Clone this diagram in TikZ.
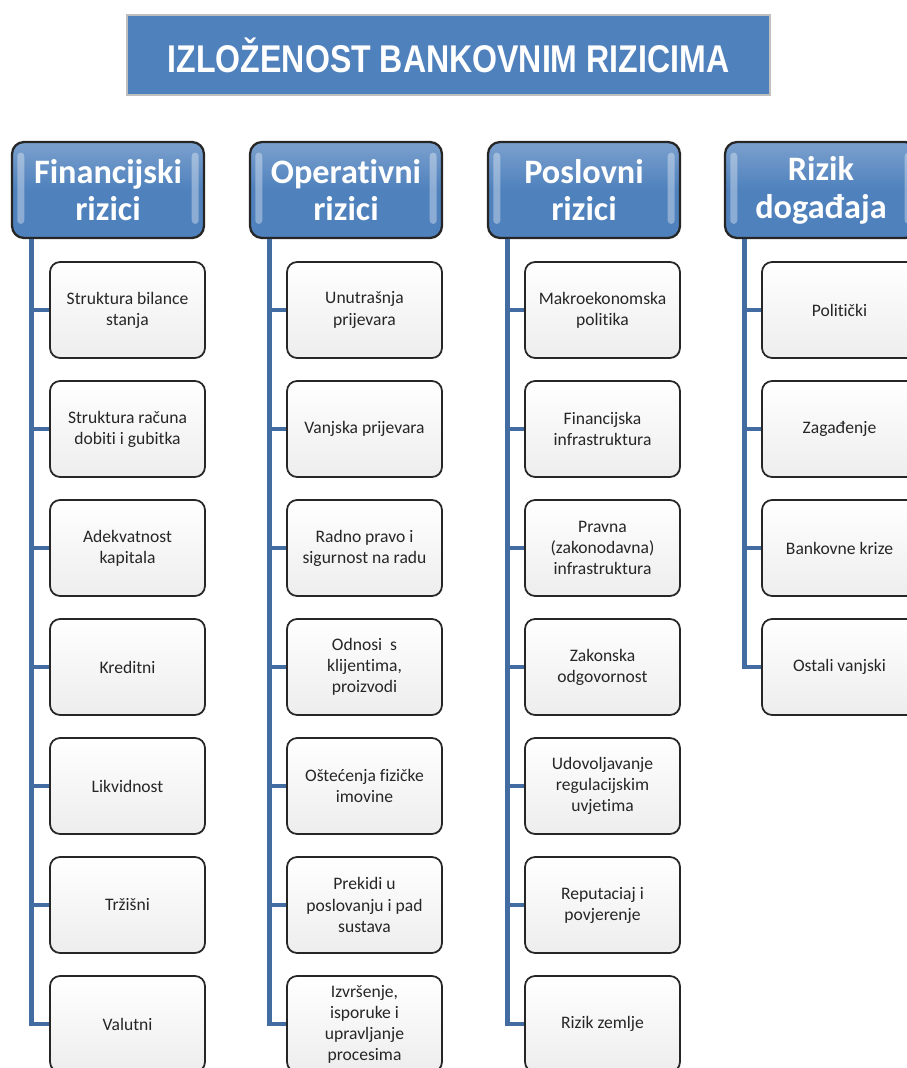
\documentclass[tikz,border=0pt]{standalone}
\usepackage{fontspec}
\setmainfont[Ligatures=NoCommon]{Carlito}
\newfontfamily\titlefont{Liberation Sans}
\usetikzlibrary{positioning}

\definecolor{riskblue}{RGB}{79,129,189}
\definecolor{trunkblue}{RGB}{66,108,162}

\tikzset{
  titlebox/.style={fill=riskblue, draw=black!25, line width=1.2pt, minimum width=12.86cm,
    minimum height=1.6cm, text=white, font=\titlefont\bfseries\fontsize{22}{26}\selectfont},
  headbox/.style={draw=black!85, line width=1.3pt, rounded corners=0.24cm,
    top color=riskblue!75!white, bottom color=riskblue, middle color=riskblue,
    minimum width=3.84cm, minimum height=1.92cm, text=white, align=center,
    font=\bfseries\fontsize{19.5}{21.5}\selectfont,
    path picture={
      \fill[white, opacity=0.35, rounded corners=2pt]
        ([xshift=3pt,yshift=-6pt]path picture bounding box.north west) rectangle
        ([xshift=7pt,yshift=8pt]path picture bounding box.south west);
      \fill[white, opacity=0.35, rounded corners=2pt]
        ([xshift=-3pt,yshift=-6pt]path picture bounding box.north east) rectangle
        ([xshift=-7pt,yshift=8pt]path picture bounding box.south east);
    }},
  itembox/.style={draw=black!85, line width=1pt, rounded corners=0.2cm,
    top color=white, bottom color=black!7, minimum width=3.1cm, minimum height=1.92cm,
    align=center, text=black!85, font=\fontsize{10}{12}\selectfont},
  trunk/.style={draw=trunkblue, line width=2.8pt}
}

\begin{document}
\begin{tikzpicture}[x=0.02cm, y=-0.02cm]
\useasboundingbox (0,0) rectangle (906,1068);

\node[titlebox] (title) at (448.5,55) {\scalebox{0.83}[1]{IZLOŽENOST BANKOVNIM RIZICIMA}};

% column headers
\node[headbox] (fin) at (108,190) {Financijski\\rizici};
\node[headbox] (op)  at (346,190) {Operativni\\rizici};
\node[headbox] (pos) at (584,190) {Poslovni\\rizici};
\node[headbox] (dog) at (821,190) {Rizik\\događaja};

% items below each header
\foreach \txt [count=\i] in {{Struktura bilance\\stanja}, {Struktura računa\\dobiti i gubitka},
    {Adekvatnost\\kapitala}, Kreditni, Likvidnost, Tržišni, Valutni} {
  \node[itembox] (fin-\i) at (127.5,191+119*\i) {\txt};
  \draw[trunk] ([xshift=0.42cm]fin.south west) |- (fin-\i.west);
}
\foreach \txt [count=\i] in {{Unutrašnja\\prijevara}, {Vanjska prijevara},
    {Radno pravo i\\sigurnost na radu}, {Odnosi~ s\\klijentima,\\proizvodi},
    {Oštećenja fizičke\\imovine}, {Prekidi u\\poslovanju i pad\\sustava},
    {Izvršenje,\\isporuke i\\upravljanje\\procesima}} {
  \node[itembox] (op-\i) at (364.5,191+119*\i) {\txt};
  \draw[trunk] ([xshift=0.42cm]op.south west) |- (op-\i.west);
}
\foreach \txt [count=\i] in {{Makroekonomska\\politika}, {Financijska\\infrastruktura},
    {Pravna\\(zakonodavna)\\infrastruktura}, {Zakonska\\odgovornost},
    {Udovoljavanje\\regulacijskim\\uvjetima}, {Reputaciaj i\\povjerenje}, {Rizik zemlje}} {
  \node[itembox] (pos-\i) at (602.5,191+119*\i) {\txt};
  \draw[trunk] ([xshift=0.42cm]pos.south west) |- (pos-\i.west);
}
\foreach \txt [count=\i] in {Politički, Zagađenje, Bankovne krize, Ostali vanjski} {
  \node[itembox] (dog-\i) at (839.5,191+119*\i) {\txt};
  \draw[trunk] ([xshift=0.42cm]dog.south west) |- (dog-\i.west);
}
\end{tikzpicture}
\end{document}
